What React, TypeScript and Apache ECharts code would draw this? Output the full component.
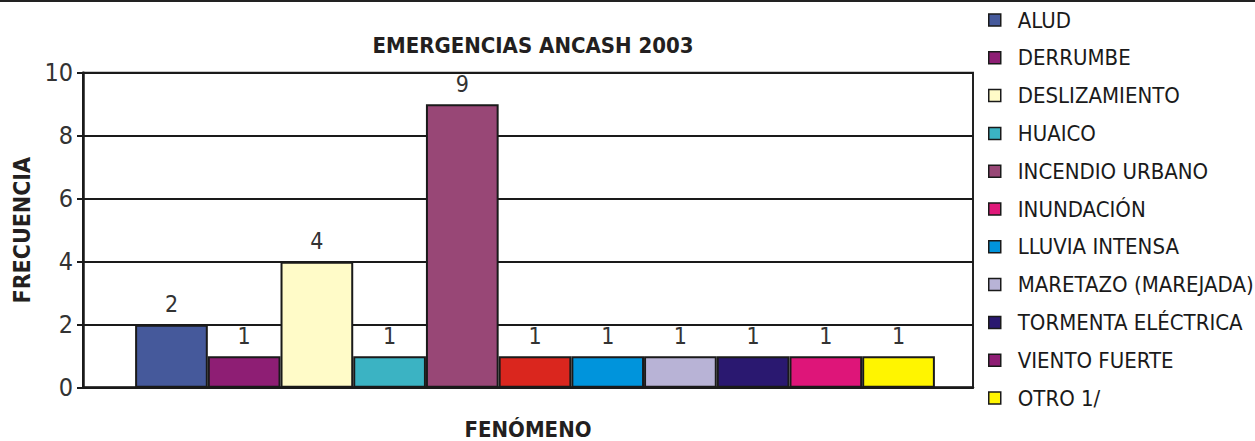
import React, { useEffect, useRef } from "react";
import * as echarts from "echarts";

const categories = [
  "ALUD",
  "DERRUMBE",
  "DESLIZAMIENTO",
  "HUAICO",
  "INCENDIO URBANO",
  "INUNDACIÓN",
  "LLUVIA INTENSA",
  "MARETAZO (MAREJADA)",
  "TORMENTA ELÉCTRICA",
  "VIENTO FUERTE",
  "OTRO 1/",
];
const values = [2, 1, 4, 1, 9, 1, 1, 1, 1, 1, 1];
const barColors = [
  "#45599b",
  "#8e1e74",
  "#fffbc8",
  "#3bb3c3",
  "#984776",
  "#da261e",
  "#0094dc",
  "#b8b3d6",
  "#2a1870",
  "#de1579",
  "#fff500",
];
const legendColors = [
  "#45599b",
  "#8e1e74",
  "#fffbc8",
  "#3bb3c3",
  "#984776",
  "#e0197a",
  "#0094dc",
  "#b8b3d6",
  "#2a1870",
  "#8e1e74",
  "#fff500",
];
const yTicks = [0, 2, 4, 6, 8, 10];

const NARROW = '"Liberation Sans Narrow", "Arial Narrow", "DejaVu Sans Condensed", sans-serif';

export default function App() {
  const ref = useRef<HTMLDivElement>(null);
  useEffect(() => {
    if (!ref.current) return;
    const chart = echarts.init(ref.current, null, { renderer: "svg" });
    const top = 72.7;
    const bottom = 441 - 387.7;
    const option: any = {
      animation: false,
      backgroundColor: "#ffffff",
      title: {
        text: "EMERGENCIAS ANCASH 2003",
        left: 528,
        top: 29,
        textAlign: "center",
        textStyle: { fontFamily: NARROW, fontWeight: "bold", fontSize: 22, color: "#231f20" },
      },
      legend: {
        orient: "vertical",
        left: 983,
        top: 4,
        itemWidth: 12,
        itemHeight: 12,
        itemGap: 15.8,
        icon: "rect",
        selectedMode: false,
        textStyle: { fontFamily: NARROW, fontSize: 22, color: "#1a1a1a", lineHeight: 22, padding: [0, 0, 0, 12] },
        data: categories.map((c, i) => ({
          name: c,
          itemStyle: { color: legendColors[i], borderColor: "#1a1a1a", borderWidth: 1.5 },
        })),
      },
      graphic: [
        { type: "line", shape: { x1: 0, y1: 1, x2: 1255, y2: 1 }, style: { stroke: "#222", lineWidth: 2 } },
      ],
      grid: [
        { left: 83, right: 282, top, bottom, show: true, borderColor: "#222", borderWidth: 2, outerBoundsMode: "none", containLabel: false },
        { left: 97, right: 282, top, bottom, outerBoundsMode: "none", containLabel: false },
      ],
      xAxis: [
        {
          type: "category",
          gridIndex: 0,
          data: [""],
          axisLine: { show: true, lineStyle: { color: "#1a1a1a", width: 2.5 } },
          axisTick: { show: false },
          axisLabel: { show: false },
          name: "FENÓMENO",
          nameLocation: "middle",
          nameGap: 32,
          nameTextStyle: { fontFamily: NARROW, fontWeight: "bold", fontSize: 22, lineHeight: 20, color: "#231f20" },
          z: 10,
        },
        { type: "category", gridIndex: 1, data: [""], show: false },
      ],
      yAxis: [
        {
          type: "value",
          gridIndex: 0,
          min: 0,
          max: 10,
          interval: 2,
          axisLine: { show: true, lineStyle: { color: "#1a1a1a", width: 2.5 } },
          axisTick: { show: true, length: 6, lineStyle: { color: "#1a1a1a", width: 2 } },
          axisLabel: {
            fontFamily: NARROW,
            fontSize: 25,
            color: "#333",
            margin: 10,
            formatter: (v: number) => (yTicks.includes(v) ? String(v) : ""),
          },
          splitLine: { show: true, lineStyle: { color: "#1a1a1a", width: 2 } },
          name: "FRECUENCIA",
          nameLocation: "middle",
          nameGap: 50,
          nameRotate: 90,
          nameTextStyle: { fontFamily: NARROW, fontWeight: "bold", fontSize: 23, color: "#231f20" },
        },
        { type: "value", gridIndex: 1, min: 0, max: 10, interval: 2, show: false },
      ],
      series: categories.map((c, i) => ({
        type: "bar",
        name: c,
        xAxisIndex: 1,
        yAxisIndex: 1,
        data: [values[i]],
        barGap: "0%",
        barCategoryGap: "8.7%",
        itemStyle: { color: barColors[i], borderColor: "#1a1a1a", borderWidth: 2 },
        label: {
          show: true,
          position: "top",
          distance: 9,
          fontFamily: NARROW,
          fontSize: 23,
          color: "#333",
        },
        z: 5,
      })),
    };
    chart.setOption(option);
    return () => chart.dispose();
  }, []);
  return (
    <div
      ref={ref}
      style={{ position: "fixed", left: 0, top: 0, width: 1255, height: 441 }}
    />
  );
}
